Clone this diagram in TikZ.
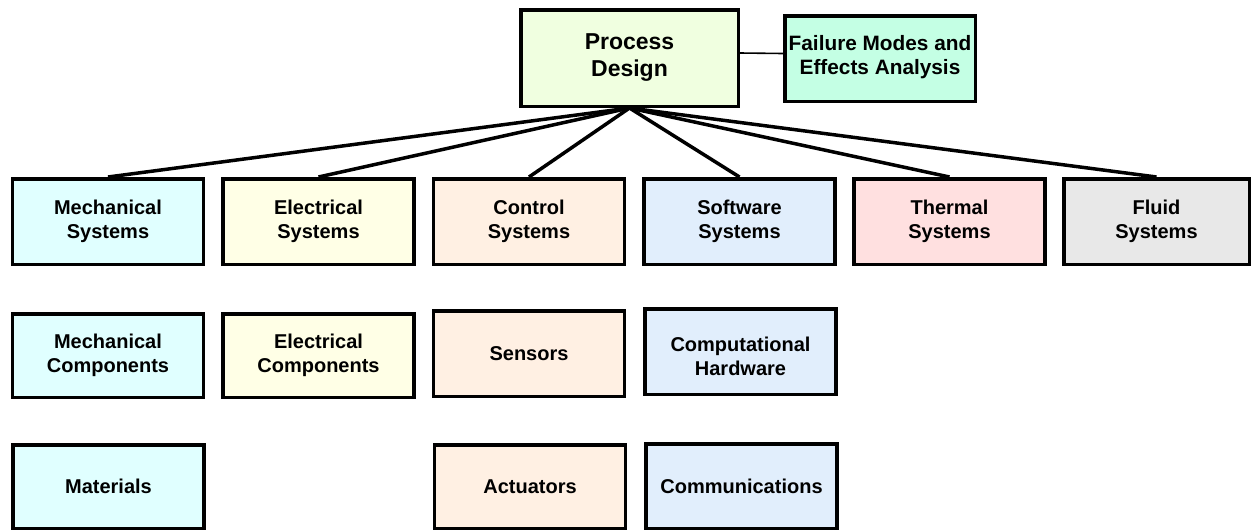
\documentclass[tikz,border=0pt]{standalone}
\usepackage{fontspec}
\setmainfont{Liberation Sans}
\usetikzlibrary{backgrounds}
\definecolor{pdc}{HTML}{F0FFE0}
\definecolor{fmc}{HTML}{C4FFE4}
\definecolor{mec}{HTML}{E0FFFF}
\definecolor{elc}{HTML}{FFFFE6}
\definecolor{coc}{HTML}{FFF0E3}
\definecolor{swc}{HTML}{E1EEFC}
\definecolor{thc}{HTML}{FFE0E0}
\definecolor{flc}{HTML}{E8E8E8}
\tikzset{
  box/.style={draw=black, line width=3.5pt, inner sep=0pt, align=center,
    font=\fontsize{20}{23.5}\selectfont\bfseries,
    minimum width=191pt, minimum height=85.5pt},
  bigbox/.style={box, font=\fontsize{23}{27}\selectfont\bfseries},
  link/.style={line width=3.5pt, black},
  thinlink/.style={line width=1.6pt, black}
}
\begin{document}
\begin{tikzpicture}[x=1pt,y=-1pt]
\useasboundingbox (0,0) rectangle (1255,531);
\node[bigbox, fill=pdc, minimum width=217.5pt, minimum height=96.5pt] (pd) at (629.5,58) {Process\\Design};
\node[box, fill=fmc, minimum width=190.5pt, font=\fontsize{20.8}{23.5}\selectfont\bfseries] (fmea) at (880,58.5) {Failure Modes and\\Effects Analysis\\[-16.5pt]};
% row 1
\node[box, fill=mec] (ms) at (108,221.5) {Mechanical\\Systems};
\node[box, fill=elc] (es) at (318.5,221.5) {Electrical\\Systems};
\node[box, fill=coc] (cs) at (529,221.5) {Control\\Systems};
\node[box, fill=swc] (ss) at (739.5,221.5) {Software\\Systems};
\node[box, fill=thc] (ts) at (949.5,221.5) {Thermal\\Systems};
\node[box, fill=flc, minimum width=185.5pt] (fs) at (1156.5,221.5) {Fluid\\Systems};
% row 2
\node[box, fill=mec, minimum height=83.5pt] (mc) at (108,355.5) {Mechanical\\Components};
\node[box, fill=elc, minimum height=83.5pt] (ec) at (318.5,355.5) {Electrical\\Components};
\node[box, fill=coc] (sen) at (529,353.5) {Sensors};
\node[box, fill=swc] (ch) at (740.5,351.5) {Computational\\Hardware\\[-32.5pt]};
% row 3
\node[box, fill=mec, minimum height=83.5pt] (mat) at (108.5,486.5) {Materials};
\node[box, fill=coc, minimum height=83.5pt] (act) at (530,486.5) {Actuators};
\node[box, fill=swc, minimum height=84.5pt] (com) at (741.5,486) {Communications};
\begin{scope}[on background layer]
\foreach \n in {ms,es,cs,ss,ts,fs}
  \draw[link] (pd.south) -- (\n.north);
\draw[thinlink] ([yshift=5pt]pd.east) -- ([yshift=5pt]fmea.west);
\end{scope}
\end{tikzpicture}
\end{document}
